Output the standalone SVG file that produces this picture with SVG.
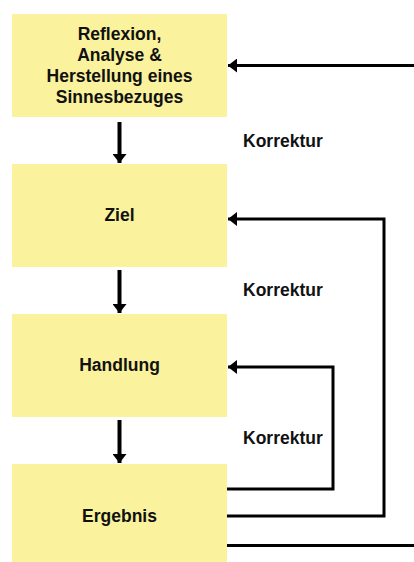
<svg xmlns="http://www.w3.org/2000/svg" width="414" height="562" viewBox="0 0 414 562">
  <style>
    .box { fill: #FAF29C; }
    .lbl { font-family: "Liberation Sans", Arial, Helvetica, sans-serif; font-weight: bold; font-size: 17.5px; fill: #111; text-anchor: middle; }
    .kor { font-family: "Liberation Sans", Arial, Helvetica, sans-serif; font-weight: bold; font-size: 17.5px; fill: #111; }
    .down { stroke: #000; stroke-width: 4; fill: none; }
    .fb { stroke: #000; stroke-width: 3; fill: none; }
  </style>
  <defs>
    <marker id="head" markerUnits="userSpaceOnUse" markerWidth="10" markerHeight="14" refX="9" refY="7" orient="auto">
      <path d="M0,0 L9,7 L0,14 Z" fill="#000"/>
    </marker>
  </defs>

  <rect width="414" height="562" fill="#fff"/>

  <g id="reflexion">
    <rect class="box" x="12" y="14" width="215" height="103"/>
    <text class="lbl" x="119.5" y="40">Reflexion,</text>
    <text class="lbl" x="119.5" y="61">Analyse &amp;</text>
    <text class="lbl" x="119.5" y="82">Herstellung eines</text>
    <text class="lbl" x="119.5" y="103">Sinnesbezuges</text>
  </g>

  <g id="ziel">
    <rect class="box" x="12" y="164" width="215" height="103"/>
    <text class="lbl" x="119.5" y="221">Ziel</text>
  </g>

  <g id="handlung">
    <rect class="box" x="12" y="314" width="215" height="103"/>
    <text class="lbl" x="119.5" y="371">Handlung</text>
  </g>

  <g id="ergebnis">
    <rect class="box" x="12" y="464" width="215" height="98"/>
    <text class="lbl" x="119.5" y="522">Ergebnis</text>
  </g>

  <g id="connectors">
    <!-- downward flow -->
    <line class="down" x1="119.5" y1="122" x2="119.5" y2="163" marker-end="url(#head)"/>
    <line class="down" x1="119.5" y1="270" x2="119.5" y2="313" marker-end="url(#head)"/>
    <line class="down" x1="119.5" y1="420" x2="119.5" y2="463" marker-end="url(#head)"/>

    <!-- feedback loops -->
    <polyline class="fb" points="227,489 333,489 333,367 228,367" marker-end="url(#head)"/>
    <polyline class="fb" points="227,516 384,516 384,219 228,219" marker-end="url(#head)"/>
    <line class="fb" x1="227" y1="545.5" x2="414" y2="545.5"/>
    <line class="fb" x1="414" y1="65.5" x2="228" y2="65.5" marker-end="url(#head)"/>

    <text class="kor" x="243" y="147">Korrektur</text>
    <text class="kor" x="243" y="296">Korrektur</text>
    <text class="kor" x="243" y="444">Korrektur</text>
  </g>
</svg>
